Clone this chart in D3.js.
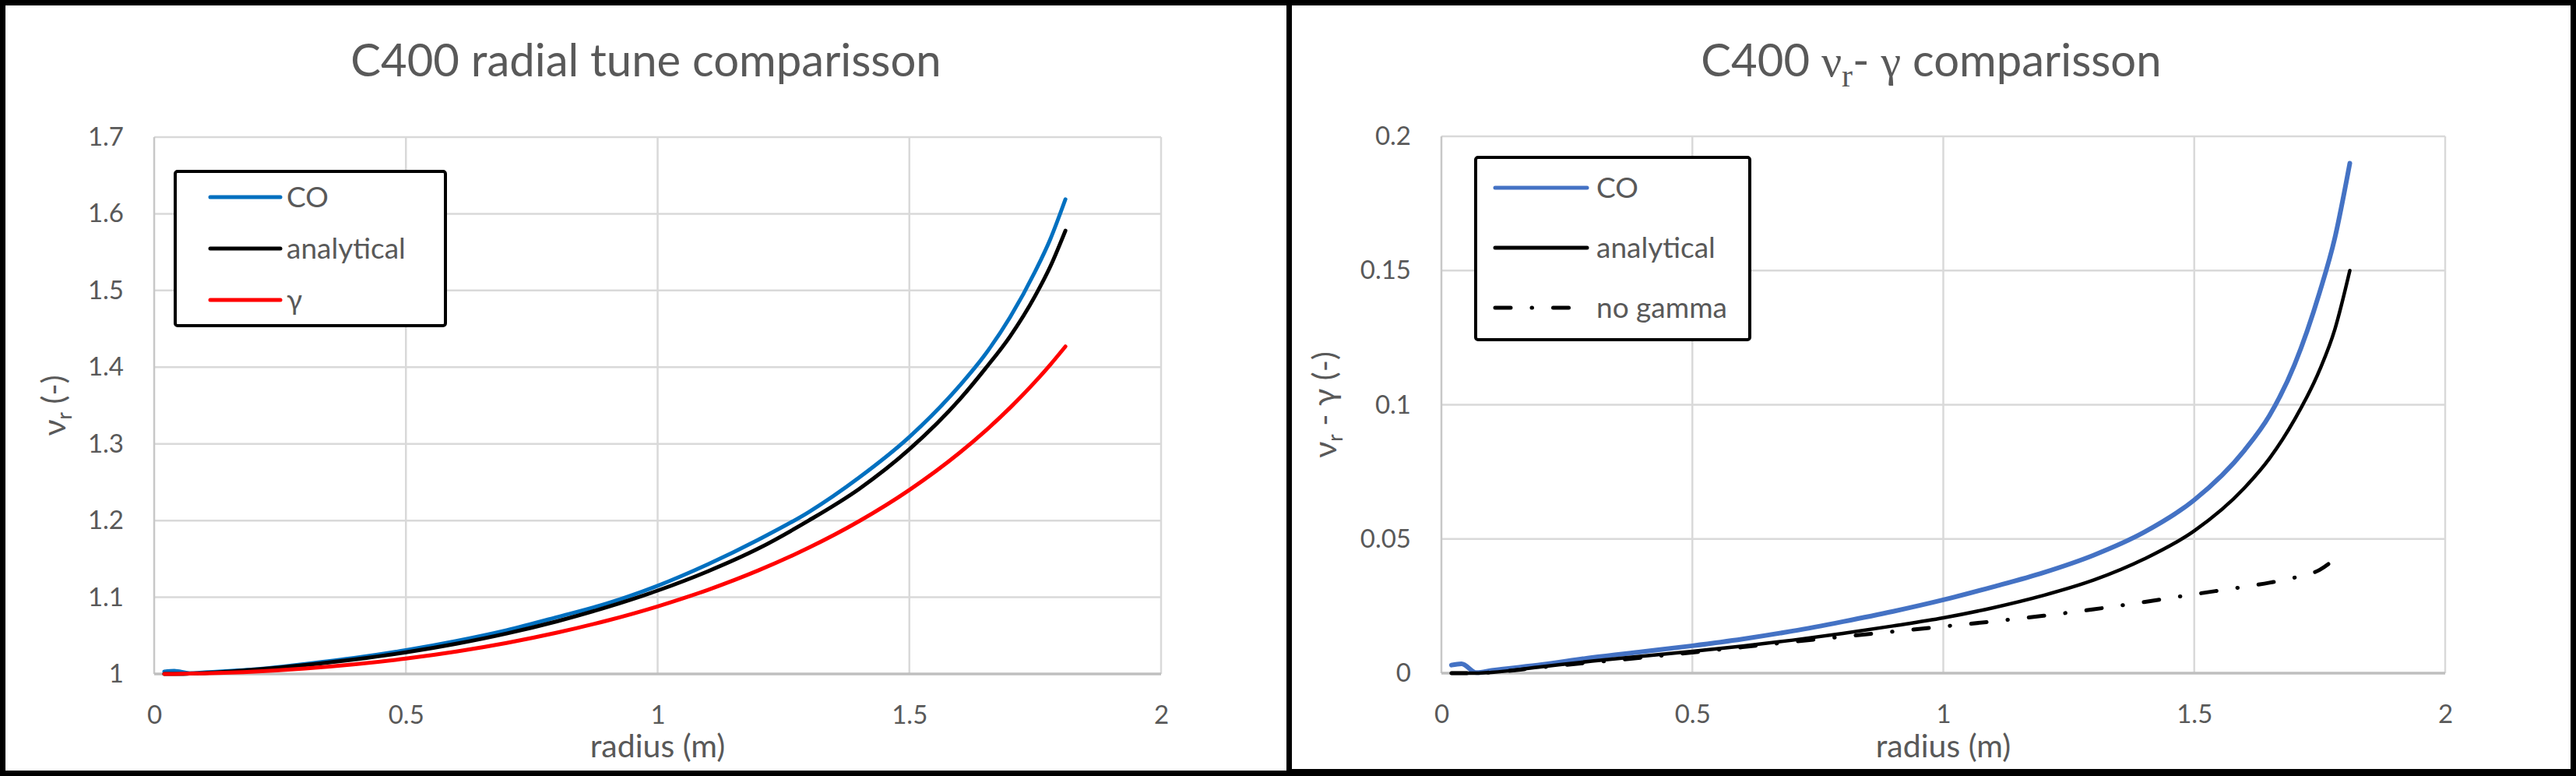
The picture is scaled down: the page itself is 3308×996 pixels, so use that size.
<!DOCTYPE html>
<meta charset="utf-8">
<style>
body { margin: 0; background: #000; }
svg { display: block; }
text { font-family: Lato, "Open Sans", sans-serif; fill: #595959; }
.grid line { stroke: #d9d9d9; stroke-width: 2.5; }
.serif { font-family: "Liberation Serif", "DejaVu Serif", serif; }
</style>
<body>
<script src="https://cdn.jsdelivr.net/npm/d3@7"></script>
<script>
// radius (m) sample points, shared by every series
var radius = [0.02, 0.04, 0.07, 0.1, 0.2, 0.3, 0.4, 0.5, 0.6, 0.7, 0.8, 0.9,
              1.0, 1.1, 1.2, 1.3, 1.4, 1.5, 1.6, 1.65, 1.7, 1.75, 1.78, 1.81];

// left chart: radial tune
var tuneCO = [1.003, 1.004, 1.001, 1.002, 1.006, 1.013, 1.021, 1.031, 1.043, 1.057, 1.074, 1.092,
              1.115, 1.143, 1.175, 1.211, 1.256, 1.309, 1.376, 1.416, 1.465, 1.525, 1.567, 1.619];
var tuneAnalytical = [1.000, 1.000, 1.0004, 1.0011, 1.0055, 1.0116, 1.019, 1.0281, 1.0393, 1.0527, 1.0686, 1.0872,
                      1.1087, 1.1339, 1.1635, 1.200, 1.2411, 1.2929, 1.358, 1.3974, 1.4401, 1.4931, 1.5313, 1.578];
var tuneGamma = [1.0000, 1.0001, 1.0004, 1.0008, 1.0031, 1.0071, 1.0127, 1.0200, 1.0292, 1.0404, 1.0538, 1.0696,
                 1.0881, 1.1097, 1.1350, 1.1645, 1.1991, 1.2399, 1.2885, 1.3164, 1.3471, 1.3811, 1.4033, 1.4270];

// right chart: nu_r - gamma
var diffCO = [0.0030, 0.0035, 0.0002, 0.0010, 0.0032, 0.0058, 0.0080, 0.0102, 0.0127, 0.0157, 0.0192, 0.0230,
              0.0273, 0.0322, 0.0375, 0.0440, 0.0525, 0.0645, 0.0830, 0.0960, 0.1150, 0.1420, 0.1620, 0.1900];
var diffAnalytical = [0, 0, 0, 0.0003, 0.0024, 0.0045, 0.0063, 0.0081, 0.0101, 0.0123, 0.0148, 0.0176,
                      0.0206, 0.0244, 0.0290, 0.0347, 0.0425, 0.0530, 0.0690, 0.0800, 0.0945, 0.1130, 0.1280, 0.1500];
var diffNoGamma = [0, 0, 0, 0.0003, 0.0022, 0.0040, 0.0058, 0.0077, 0.0097, 0.0117, 0.0136, 0.0155,
                   0.0174, 0.0193, 0.0214, 0.0238, 0.0265, 0.0294, 0.0322, 0.0337, 0.0356, 0.0385, 0.0425, null];

var xTicks = [0, 0.5, 1, 1.5, 2];
var tuneTicks = [1, 1.1, 1.2, 1.3, 1.4, 1.5, 1.6, 1.7];
var diffTicks = [0, 0.05, 0.1, 0.15, 0.2];

var W = 3308, H = 996;
var svg = d3.select("body").append("svg").attr("width", W).attr("height", H);

// black frame with two white chart panels
svg.append("rect").attr("width", W).attr("height", H).attr("fill", "#000");
svg.append("rect").attr("x", 7).attr("y", 7).attr("width", 1645).attr("height", 982).attr("fill", "#fff");
svg.append("rect").attr("x", 1659).attr("y", 7).attr("width", 1642).attr("height", 980).attr("fill", "#fff");

function panel(p) {
  var g = svg.append("g");
  var x = d3.scaleLinear().domain([0, 2]).range([p.left, p.right]);
  var y = d3.scaleLinear().domain(p.yDomain).range([p.bottom, p.top]);

  // gridlines
  var grid = g.append("g").attr("class", "grid");
  grid.selectAll(".h").data(p.yTicks.slice(1)).enter().append("line")
      .attr("x1", p.left).attr("x2", p.right)
      .attr("y1", function(d) { return y(d); }).attr("y2", function(d) { return y(d); });
  grid.selectAll(".v").data(xTicks).enter().append("line")
      .attr("y1", p.top).attr("y2", p.bottom)
      .attr("x1", function(d) { return x(d); }).attr("x2", function(d) { return x(d); })
      .style("stroke", function(d) { return d === 0 ? "#c8c8c8" : null; });
  g.append("line").attr("x1", p.left).attr("x2", p.right)
      .attr("y1", p.bottom).attr("y2", p.bottom)
      .attr("stroke", "#bfbfbf").attr("stroke-width", 3.5);

  // axes (labels only, Excel style)
  var yAxis = d3.axisLeft(y).tickValues(p.yTicks).tickSize(0).tickPadding(39)
      .tickFormat(function(d) { return String(+d.toFixed(2)); });
  var ya = g.append("g").attr("transform", "translate(" + p.left + ",0)").call(yAxis);
  var xAxis = d3.axisBottom(x).tickValues(xTicks).tickSize(0).tickPadding(0)
      .tickFormat(function(d) { return String(d); });
  var xa = g.append("g").attr("transform", "translate(0," + p.bottom + ")").call(xAxis);
  [ya, xa].forEach(function(a) {
    a.select(".domain").remove();
    a.selectAll("text").attr("font-size", 33).attr("font-family", null).style("fill", "#595959");
  });
  xa.selectAll("text").attr("dy", null).attr("y", 64);

  // series
  var line = d3.line()
      .defined(function(d) { return d[1] != null; })
      .x(function(d) { return x(d[0]); })
      .y(function(d) { return y(d[1]); })
      .curve(d3.curveMonotoneX);
  p.series.forEach(function(s) {
    g.append("path")
        .datum(radius.map(function(r, i) { return [r, s.values[i]]; }))
        .attr("fill", "none")
        .attr("stroke", s.color)
        .attr("stroke-width", s.width)
        .attr("stroke-linecap", "round")
        .attr("stroke-linejoin", "round")
        .attr("stroke-dasharray", s.dash || null)
        .attr("d", line);
  });

  // title
  var title = g.append("text").attr("x", (p.panelLeft + p.panelRight) / 2).attr("y", 98)
      .attr("text-anchor", "middle").attr("font-size", 58);
  p.title(title);

  // axis titles
  g.append("text").attr("x", (p.left + p.right) / 2).attr("y", 972)
      .attr("text-anchor", "middle").attr("font-size", 41).text("radius (m)");
  var yt = g.append("text")
      .attr("transform", "translate(" + p.yTitleX + "," + ((p.top + p.bottom) / 2) + ") rotate(-90)")
      .attr("text-anchor", "middle").attr("dy", "0.35em").attr("font-size", 41);
  p.yTitle(yt);

  // legend
  var L = p.legend;
  g.append("rect").attr("x", L.x).attr("y", L.y).attr("width", L.w).attr("height", L.h)
      .attr("rx", 3).attr("fill", "#fff").attr("stroke", "#000").attr("stroke-width", 4);
  p.series.forEach(function(s, i) {
    var ly = L.rows[i];
    g.append("line").attr("x1", L.lineX0).attr("x2", L.lineX1).attr("y1", ly).attr("y2", ly)
        .attr("stroke", s.color).attr("stroke-width", 5).attr("stroke-linecap", "round")
        .attr("stroke-dasharray", s.dash || null);
    g.append("text").attr("x", L.textX).attr("y", ly).attr("dy", "0.35em")
        .attr("font-size", 37).text(s.name);
  });
}

panel({
  panelLeft: 7, panelRight: 1652,
  left: 198, right: 1491, top: 176, bottom: 865,
  yDomain: [1, 1.7], yTicks: tuneTicks, yTitleX: 70,
  title: function(t) { t.text("C400 radial tune comparisson"); },
  yTitle: function(t) {
    t.append("tspan").text("ν");
    t.append("tspan").attr("font-size", 26).attr("dy", "0.3em").text("r");
    t.append("tspan").attr("dy", "-0.22em").text(" (-)");
  },
  series: [
    {name: "CO", values: tuneCO, color: "#0070c0", width: 5},
    {name: "analytical", values: tuneAnalytical, color: "#000", width: 5},
    {name: "γ", values: tuneGamma, color: "#ff0000", width: 5}
  ],
  legend: {x: 225, y: 220, w: 347, h: 198, rows: [253, 319, 385], lineX0: 270, lineX1: 360, textX: 368}
});

panel({
  panelLeft: 1659, panelRight: 3301,
  left: 1851, right: 3140, top: 175, bottom: 864,
  yDomain: [0, 0.2], yTicks: diffTicks, yTitleX: 1702,
  title: function(t) {
    t.append("tspan").text("C400 ");
    t.append("tspan").attr("class", "serif").text("ν");
    t.append("tspan").attr("class", "serif").attr("font-size", 42).attr("dy", "0.3em").text("r");
    t.append("tspan").attr("dy", "-0.22em").text("- ");
    t.append("tspan").attr("class", "serif").text("γ");
    t.append("tspan").text(" comparisson");
  },
  yTitle: function(t) {
    t.append("tspan").text("ν");
    t.append("tspan").attr("font-size", 26).attr("dy", "0.3em").text("r");
    t.append("tspan").attr("dy", "-0.22em").text(" - γ (-)");
  },
  series: [
    {name: "CO", values: diffCO, color: "#4472c4", width: 6},
    {name: "analytical", values: diffAnalytical, color: "#000", width: 4.5},
    {name: "no gamma", values: diffNoGamma, color: "#000", width: 5, dash: "20,27,0.5,27"}
  ],
  legend: {x: 1895, y: 202, w: 352, h: 234, rows: [241, 318, 395], lineX0: 1920, lineX1: 2038, textX: 2050}
});
</script>
</body>
